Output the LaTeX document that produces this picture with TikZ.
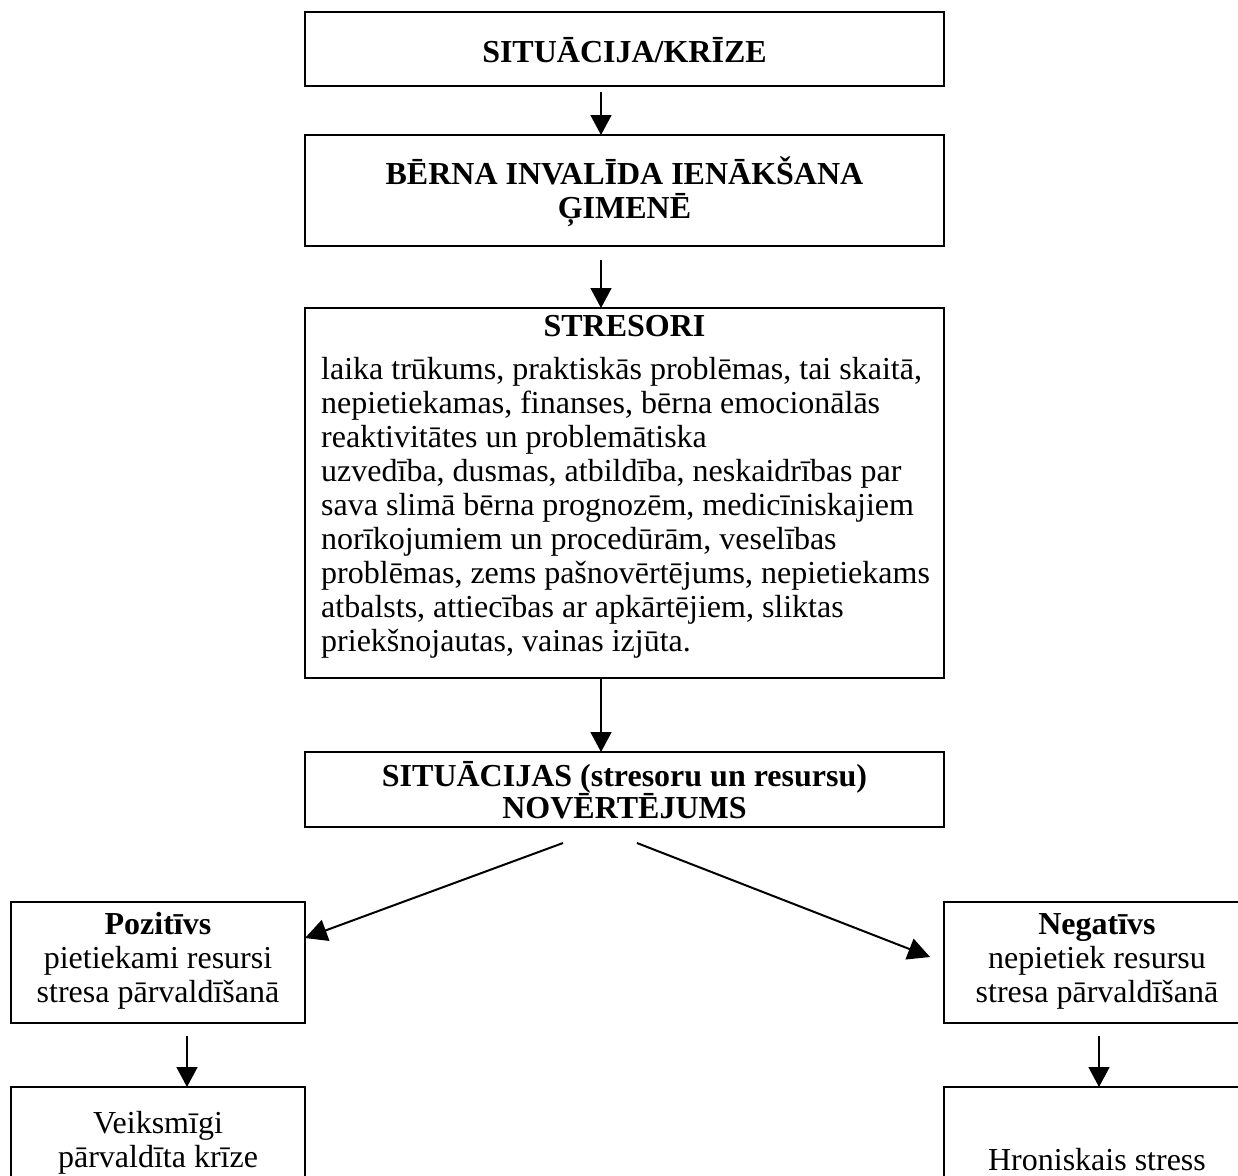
\documentclass[tikz,border=0pt]{standalone}
\usepackage{fontspec}
\setmainfont{Liberation Serif}
\usetikzlibrary{arrows.meta}
\setlength{\lineskiplimit}{-30pt}
\newcommand{\fst}{\rule{0pt}{30pt}}
\tikzset{
  box/.style={draw, line width=2pt, inner sep=0pt, outer sep=0pt, anchor=north west},
  txt/.style={inner sep=0pt, font=\fontsize{32}{34}\selectfont},
  btxt/.style={inner sep=0pt, font=\fontsize{32}{34}\selectfont\bfseries},
  arr/.style={line width=1.6pt, -{Triangle[length=20pt,width=21pt]}},
  darr/.style={line width=2pt, -{Triangle[length=22pt,width=22pt]}}
}
\begin{document}
\begin{tikzpicture}[x=1pt,y=-1pt]
\useasboundingbox (0,0) rectangle (1238,1175);
\clip (0,0) rectangle (1238,1175);
% boxes
\node[box, minimum width=639pt, minimum height=74pt] (b1) at (305,12) {};
\node[box, minimum width=639pt, minimum height=111pt] (b2) at (305,135) {};
\node[box, minimum width=639pt, minimum height=370pt] (b3) at (305,308) {};
\node[box, minimum width=639pt, minimum height=75pt] (b4) at (305,752) {};
\node[box, minimum width=294pt, minimum height=121pt] (pos) at (11,902) {};
\node[box, minimum width=306pt, minimum height=121pt] (neg) at (944,902) {};
\node[box, minimum width=294pt, minimum height=160pt] (vb) at (11,1087) {};
\node[box, minimum width=306pt, minimum height=160pt] (hb) at (944,1087) {};
% texts
\node[btxt, anchor=base] (t1) at (624.5,62) {SITUĀCIJA/KRĪZE};
\node[btxt, anchor=north, align=center] (t2) at (624.5,154) {\fst BĒRNA INVALĪDA IENĀKŠANA\\ĢIMENĒ};
\node[btxt, anchor=base] (t3h) at (624.5,336) {STRESORI};
\node[txt, anchor=north west, align=left] (t3) at (321,349) {\fst laika trūkums, praktiskās problēmas, tai skaitā,\\
nepietiekamas, finanses, bērna emocionālās\\
reaktivitātes un problemātiska\\
uzvedība, dusmas, atbildība, neskaidrības par\\
sava slimā bērna prognozēm, medicīniskajiem\\
norīkojumiem un procedūrām, veselības\\
problēmas, zems pašnovērtējums, nepietiekams\\
atbalsts, attiecības ar apkārtējiem, sliktas\\
priekšnojautas, vainas izjūta.};
\node[btxt, anchor=north, align=center, font=\fontsize{32}{32}\selectfont\bfseries] (t4) at (624.5,756) {\fst SITUĀCIJAS (stresoru un resursu)\\NOVĒRTĒJUMS};
\node[txt, anchor=north, align=center] (tp) at (158,904) {\fst\textbf{Pozitīvs}\\pietiekami resursi\\stresa pārvaldīšanā};
\node[txt, anchor=north, align=center] (tn) at (1097,904) {\fst\textbf{Negatīvs}\\nepietiek resursu\\stresa pārvaldīšanā};
\node[txt, anchor=north, align=center] (tv) at (158,1103) {\fst Veiksmīgi\\pārvaldīta krīze};
\node[txt, anchor=base] (th) at (1097,1170) {Hroniskais stress};
% connector anchors
\coordinate (a1s) at (601,92);
\coordinate (a2s) at (601,260);
\coordinate (a3s) at (601,678);
\coordinate (dls) at (563,843);
\coordinate (dle) at (305,938);
\coordinate (drs) at (637,843);
\coordinate (dre) at (930,957);
\coordinate (a4s) at (187,1036);
\coordinate (a5s) at (1099,1036);
% connectors
\draw[arr] (a1s) -- (a1s |- b2.north);
\draw[arr] (a2s) -- (a2s |- b3.north);
\draw[arr] (a3s) -- (a3s |- b4.north);
\draw[darr] (dls) -- (dle);
\draw[darr] (drs) -- (dre);
\draw[arr] (a4s) -- (a4s |- vb.north);
\draw[arr] (a5s) -- (a5s |- hb.north);
\end{tikzpicture}
\end{document}
